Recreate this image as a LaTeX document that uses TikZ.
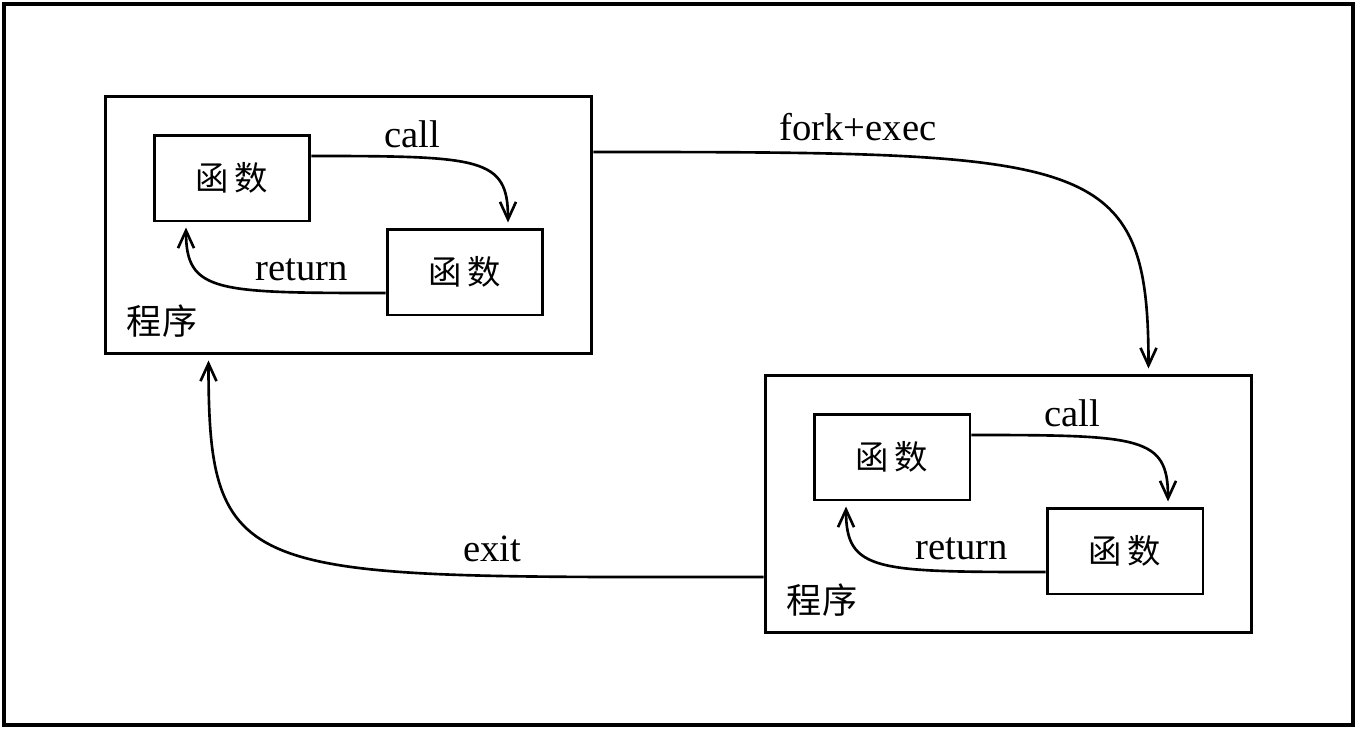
\documentclass[tikz,border=0pt]{standalone}
\usepackage{fontspec}
\setmainfont{Liberation Serif}
\newfontfamily\cjk{Noto Sans CJK SC}
\usepackage{tikz}
\usetikzlibrary{positioning, arrows.meta, calc}

\begin{document}
\begin{tikzpicture}[
    x=0.02cm, y=-0.02cm,
    arrow/.style={-{Straight Barb[length=3.5mm, width=3.2mm]}, line width=1.5pt, shorten >=1mm},
    prog/.style={draw, line width=1.7pt, minimum width=9.74cm, minimum height=5.16cm},
    func/.style={draw, line width=1.7pt, minimum width=3.12cm, minimum height=1.72cm, font=\cjk\fontsize{19}{22}\selectfont},
    lbl/.style={font=\fontsize{22}{26}\selectfont},
    cjklbl/.style={font=\cjk\fontsize{20}{24}\selectfont}
]
    \useasboundingbox (0,0) rectangle (1358,730);
    % Frame
    \draw[line width=1.9pt] (4,4) rectangle (1353,725);

    % Program boxes
    \node[prog] (p1) at (348.5,225) {};
    \node[prog] (p2) at (1008.5,504) {};

    % Functions in the first program
    \node[func] (fa1) at (232,178) {函\,数};
    \node[func] (fb1) at (465,272) {函\,数};
    \node[cjklbl] (n1) at (162,321) {程序};

    % Functions in the second program
    \node[func] (fa2) at (892,457) {函\,数};
    \node[func] (fb2) at (1125,551) {函\,数};
    \node[cjklbl] (n2) at (822,600) {程序};

    % Labels
    \node[lbl] (c1) at (412,134) {call};
    \node[lbl] (r1) at (302,270) {return};
    \node[lbl] (c2) at (1072,413) {call};
    \node[lbl] (r2) at (962,549) {return};
    \node[lbl] (fe) at (858,127) {fork+exec};
    \node[lbl] (ex) at (492,549) {exit};

    % Calls and returns
    \draw[arrow] ($(fa1.east)+(0,-22)$) .. controls +(170,0) and +(0,-70) .. ($(fb1.north)+(43,0)$);
    \draw[arrow] ($(fb1.west)+(0,21)$) .. controls +(-170,0) and +(0,70) .. ($(fa1.south)+(-46,0)$);
    \draw[arrow] ($(fa2.east)+(0,-22)$) .. controls +(170,0) and +(0,-70) .. ($(fb2.north)+(43,0)$);
    \draw[arrow] ($(fb2.west)+(0,21)$) .. controls +(-170,0) and +(0,70) .. ($(fa2.south)+(-46,0)$);

    % Process level
    \draw[arrow] ($(p1.east)+(0,-73)$) .. controls +(500,0) and +(0,-220) .. ($(p2.north)+(140,0)$);
    \draw[arrow] ($(p2.west)+(0,73)$) .. controls +(-520,0) and +(0,230) .. ($(p1.south)+(-140,0)$);
\end{tikzpicture}
\end{document}
